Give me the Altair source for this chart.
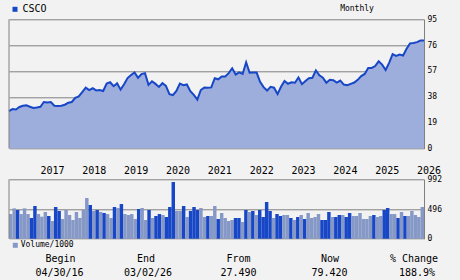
import altair as alt
import pandas as pd

# ---------------- data ----------------
symbol = "CSCO"
frequency = "Monthly"
volume_label = "Volume/1000"

price = [
    27.49, 29.0, 28.7, 30.5, 31.4, 31.7, 30.7, 29.8, 30.2,
    30.7, 34.2, 33.8, 34.1, 31.5, 31.3, 31.5, 32.2, 33.6, 34.2, 37.3, 38.3,
    41.5, 44.8, 42.9, 44.3, 42.7, 43.0, 42.3, 47.8, 48.7, 45.8, 47.9, 43.3,
    47.3, 51.8, 54.0, 56.0, 52.0, 54.7, 55.4, 46.8, 49.4, 47.5, 45.3, 48.0,
    46.0, 39.9, 39.3, 42.4, 47.8, 46.6, 47.1, 42.2, 39.4, 35.9, 43.0, 44.8,
    44.6, 44.9, 51.7, 50.9, 52.9, 53.0, 55.4, 59.0, 54.4, 56.0, 54.8, 63.4,
    55.7, 55.8, 55.8, 49.0, 45.1, 42.6, 45.4, 44.7, 40.0, 45.4, 49.7, 47.6,
    48.7, 48.4, 52.3, 47.3, 49.7, 51.7, 52.0, 57.4, 53.8, 52.1, 48.4, 50.5,
    50.2, 48.4, 49.9, 47.0, 46.5, 47.5, 48.5, 50.5, 53.2, 54.8, 59.2, 59.2,
    60.6, 64.1, 61.7, 57.7, 63.0, 69.4, 68.1, 69.1, 68.4, 73.3, 77.3, 77.6,
    78.2, 79.4, 79.42,
]

volume = [
    412, 507, 479, 412, 507, 412, 346, 546, 412, 368,
    446, 379, 296, 529, 463, 329, 479, 396, 312, 446,
    346, 479, 680, 563, 463, 479, 446, 429, 412, 346,
    529, 513, 579, 412, 396, 412, 329, 496, 513, 312,
    479, 346, 379, 412, 396, 362, 529, 947, 463, 463,
    546, 362, 463, 529, 479, 513, 362, 379, 379, 546,
    329, 429, 346, 296, 312, 346, 346, 279, 479, 446,
    463, 396, 479, 362, 613, 463, 346, 412, 379, 396,
    396, 346, 312, 362, 396, 329, 429, 346, 362, 412,
    312, 312, 446, 362, 362, 396, 396, 362, 429, 379,
    379, 429, 329, 329, 379, 396, 362, 379, 479, 513,
    412, 412, 346, 446, 379, 379, 463, 396, 362, 529,
]

direction = [
    "down", "down", "up", "down", "down", "down", "up", "up", "down", "down",
    "down", "up", "down", "up", "up", "down", "down", "down", "down", "down",
    "down", "down", "down", "up", "down", "up", "down", "up", "down", "down",
    "up", "down", "up", "down", "down", "down", "down", "up", "down", "down",
    "up", "down", "up", "up", "down", "up", "up", "up", "down", "down",
    "up", "down", "up", "up", "up", "down", "down", "up", "down", "down",
    "up", "down", "down", "down", "down", "up", "up", "down", "up", "down",
    "up", "down", "up", "up", "up", "up", "down", "up", "up", "down",
    "down", "up", "down", "up", "down", "up", "down", "down", "down", "down",
    "up", "up", "up", "down", "up", "up", "down", "up", "up", "down",
    "down", "down", "down", "down", "down", "up", "down", "down", "up", "up",
    "down", "down", "up", "down", "up", "down", "down", "down", "down", "down",
]

years = ["2017", "2018", "2019", "2020", "2021", "2022", "2023", "2024", "2025", "2026"]
first_year, first_month = 2016, 4          # series starts April 2016
price_ticks = [0, 19, 38, 57, 76, 95]
volume_ticks = [0, 496, 992]

footer_heads = ["Begin", "End", "From", "Now", "% Change"]
footer_values = ["04/30/16", "03/02/26", "27.490", "79.420", "188.9%"]

# ---------------- style / layout ----------------
MONO = "DejaVu Sans Mono"
BG = "#f2f2f2"
LINE = "#1747c6"
FILL = "#9daedc"
DARK = "#1747c6"
LIGHT = "#8698c6"
GRID = "#808080"

W = 415          # plot width
PH = 129.2       # price panel height
VT = 160.0       # volume panel top (relative to plot origin)
VB = 219.4       # volume panel bottom

n = len(price)

# ---------------- price panel ----------------
dfp = pd.DataFrame({"i": list(range(n)), "price": price})
px = alt.Scale(domain=[0, n - 1], nice=False, zero=False)
py = alt.Scale(domain=[price_ticks[0], price_ticks[-1]], range=[PH, 0], nice=False)

yaxis_p = alt.Axis(
    orient="right", values=price_ticks, grid=True, gridColor=GRID, gridWidth=1,
    gridOpacity=1, domain=True, domainColor=GRID, domainWidth=1, ticks=False,
    labelPadding=3, labelFont=MONO, labelFontSize=8, labelColor="black",
    labelBaseline="middle", title=None,
)

area = alt.Chart(dfp).mark_area(color=FILL, opacity=1).encode(
    x=alt.X("i:Q", scale=px, axis=None),
    y=alt.Y("price:Q", scale=py, axis=yaxis_p),
)
line = alt.Chart(dfp).mark_line(color=LINE, strokeWidth=2).encode(
    x=alt.X("i:Q"), y=alt.Y("price:Q"),
)

dfy = pd.DataFrame({
    "pos": [(int(y) - first_year) * 12 - (first_month - 1) for y in years],
    "label": years,
})
year_text = alt.Chart(dfy).mark_text(
    align="left", baseline="top", font=MONO, fontSize=10, color="black"
).encode(x=alt.X("pos:Q"), y=alt.value(146.7), text="label:N")

p_border = alt.Chart(pd.DataFrame({"lo": [price_ticks[0]], "hi": [price_ticks[-1]]})).mark_rule(
    color=GRID, strokeWidth=1
).encode(x=alt.value(0), y=alt.Y("lo:Q"), y2="hi:Q")

price_group = alt.layer(area, line, year_text, p_border)

# ---------------- volume panel ----------------
dfv = pd.DataFrame({
    "i0": list(range(n)), "i1": list(range(1, n + 1)),
    "vol": volume, "dir": direction,
})
vx = alt.Scale(domain=[0, n], nice=False, zero=False)
vy = alt.Scale(domain=[volume_ticks[0], volume_ticks[-1]], range=[VB, VT], nice=False)
yaxis_v = alt.Axis(
    orient="right", values=volume_ticks, grid=True, gridColor=GRID, gridWidth=1,
    gridOpacity=1, domain=True, domainColor=GRID, domainWidth=1, ticks=False,
    labelPadding=3, labelFont=MONO, labelFontSize=8, labelColor="black",
    labelBaseline="middle", title=None,
)
bars = alt.Chart(dfv).mark_bar(opacity=1).encode(
    x=alt.X("i0:Q", scale=vx, axis=None),
    x2="i1:Q",
    y=alt.Y("vol:Q", scale=vy, axis=yaxis_v),
    y2=alt.datum(0),
    color=alt.Color("dir:N", scale=alt.Scale(domain=["up", "down"], range=[DARK, LIGHT]), legend=None),
)
v_border = alt.Chart(pd.DataFrame({"lo": [volume_ticks[0]], "hi": [volume_ticks[-1]]})).mark_rule(
    color=GRID, strokeWidth=1
).encode(x=alt.value(0), y=alt.Y("lo:Q"), y2="hi:Q")

vol_group = alt.layer(bars, v_border)

# ---------------- legends / labels ----------------
one = pd.DataFrame({"t": [""]})


def label(text, x, y, size, align="left"):
    return alt.Chart(pd.DataFrame({"t": [text]})).mark_text(
        align=align, baseline="middle", font=MONO, fontSize=size, color="black"
    ).encode(x=alt.value(x), y=alt.value(y), text="t:N")


def swatch(color, x, y):
    return alt.Chart(one).mark_square(size=25, color=color, opacity=1).encode(
        x=alt.value(x), y=alt.value(y)
    )


extras = [
    swatch(DARK, 6, -10),
    label(symbol, 13.5, -10, 10),
    label(frequency, 348, -10, 8, "center"),
    swatch(LIGHT, 6.3, 226),
    label(volume_label, 11.7, 226, 8),
]

head_x = [51.5, 137, 229.5, 321, 405]
val_x = [50.5, 139, 229.5, 320.5, 408]
for h, hx in zip(footer_heads, head_x):
    extras.append(label(h, hx, 240, 10, "center"))
for v, vx_ in zip(footer_values, val_x):
    extras.append(label(v, vx_, 254, 10, "center"))

chart = alt.layer(price_group, vol_group, *extras).resolve_scale(
    x="independent", y="independent"
).properties(
    width=W, height=VB, background=BG,
    padding={"left": 9, "top": 19.3, "right": 36, "bottom": 41.3},
    autosize=alt.AutoSizeParams(type="none"),
).configure_view(stroke=None)

chart.save("out.html", embed_options={"renderer": "svg", "actions": False})
